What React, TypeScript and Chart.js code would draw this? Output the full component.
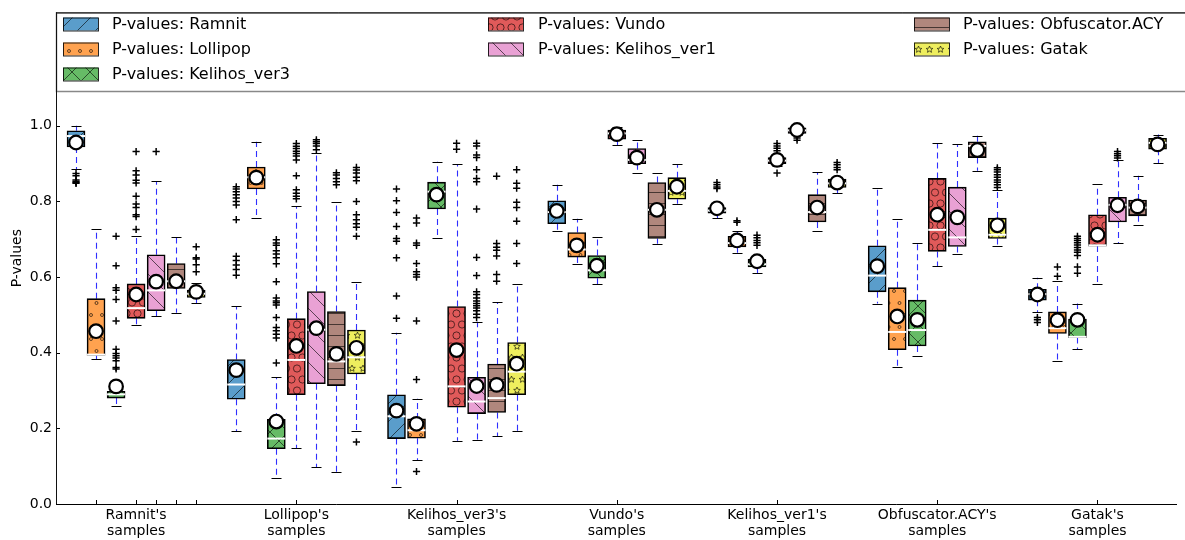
import React, { useEffect, useRef } from 'react';
import { Chart, registerables } from 'chart.js';
Chart.register(...registerables);

const groupLabels: string[][] = [
  ["Ramnit's", 'samples'],
  ["Lollipop's", 'samples'],
  ["Kelihos_ver3's", 'samples'],
  ["Vundo's", 'samples'],
  ["Kelihos_ver1's", 'samples'],
  ["Obfuscator.ACY's", 'samples'],
  ["Gatak's", 'samples'],
];
const seriesNames = ['Ramnit', 'Lollipop', 'Kelihos_ver3', 'Vundo', 'Kelihos_ver1', 'Obfuscator.ACY', 'Gatak'];
const seriesColors = ['#5a9dcb', '#ffa24f', '#66bb66', '#e05a5a', '#e9a1d4', '#b0877d', '#eeee5e'];
const seriesHatches = ['/', 'o', 'x', 'O', '\\', '-', '*'];

// [series][group]
const whiskerLow: number[][] = [
  [0.885, 0.192, 0.044, 0.723, 0.756, 0.530, 0.508],
  [0.383, 0.755, 0.116, 0.634, 0.664, 0.361, 0.379],
  [0.259, 0.068, 0.704, 0.581, 0.611, 0.392, 0.410],
  [0.474, 0.148, 0.167, 0.949, 0.895, 0.629, 0.582],
  [0.497, 0.097, 0.168, 0.875, 0.975, 0.660, 0.689],
  [0.506, 0.085, 0.180, 0.688, 0.721, 0.881, 0.739],
  [0.531, 0.192, 0.192, 0.794, 0.822, 0.683, 0.901],
];
const quartile1: number[][] = [
  [0.944, 0.277, 0.173, 0.741, 0.769, 0.561, 0.539],
  [0.393, 0.833, 0.174, 0.653, 0.680, 0.408, 0.451],
  [0.280, 0.146, 0.780, 0.597, 0.627, 0.418, 0.440],
  [0.491, 0.289, 0.256, 0.965, 0.900, 0.668, 0.682],
  [0.511, 0.318, 0.239, 0.900, 0.980, 0.681, 0.746],
  [0.570, 0.313, 0.242, 0.702, 0.746, 0.916, 0.762],
  [0.546, 0.344, 0.289, 0.806, 0.837, 0.702, 0.938],
];
const medians: number[][] = [
  [0.973, 0.316, 0.232, 0.772, 0.776, 0.604, 0.555],
  [0.395, 0.864, 0.195, 0.673, 0.690, 0.455, 0.465],
  [0.290, 0.173, 0.826, 0.618, 0.634, 0.460, 0.442],
  [0.518, 0.381, 0.311, 0.980, 0.908, 0.725, 0.684],
  [0.565, 0.461, 0.271, 0.910, 0.988, 0.705, 0.791],
  [0.589, 0.377, 0.280, 0.778, 0.772, 0.947, 0.784],
  [0.556, 0.388, 0.350, 0.828, 0.848, 0.712, 0.955],
];
const quartile3: number[][] = [
  [0.987, 0.382, 0.289, 0.802, 0.784, 0.683, 0.568],
  [0.543, 0.891, 0.225, 0.718, 0.708, 0.572, 0.508],
  [0.298, 0.224, 0.851, 0.657, 0.647, 0.539, 0.489],
  [0.582, 0.490, 0.522, 0.989, 0.916, 0.861, 0.765],
  [0.659, 0.562, 0.335, 0.940, 0.995, 0.838, 0.811],
  [0.636, 0.509, 0.370, 0.850, 0.818, 0.958, 0.804],
  [0.566, 0.460, 0.427, 0.863, 0.859, 0.756, 0.967],
];
const whiskerHigh: number[][] = [
  [1.0, 0.523, 0.453, 0.844, 0.790, 0.835, 0.598],
  [0.726, 0.958, 0.278, 0.754, 0.722, 0.754, 0.589],
  [0.305, 0.335, 0.905, 0.705, 0.655, 0.690, 0.530],
  [0.710, 0.787, 0.899, 0.996, 0.922, 0.954, 0.846],
  [0.854, 0.927, 0.482, 0.963, 1.0, 0.951, 0.910],
  [0.705, 0.799, 0.534, 0.876, 0.878, 0.974, 0.868],
  [0.585, 0.587, 0.582, 0.898, 0.866, 0.831, 0.977],
];
const means: number[][] = [
  [0.956, 0.354, 0.247, 0.775, 0.782, 0.629, 0.554],
  [0.457, 0.863, 0.212, 0.684, 0.697, 0.496, 0.486],
  [0.311, 0.218, 0.818, 0.630, 0.642, 0.487, 0.487],
  [0.554, 0.418, 0.407, 0.978, 0.910, 0.765, 0.712],
  [0.588, 0.465, 0.312, 0.916, 0.989, 0.758, 0.790],
  [0.589, 0.397, 0.315, 0.778, 0.784, 0.936, 0.787],
  [0.561, 0.413, 0.371, 0.839, 0.850, 0.737, 0.951],
];
const fliers: number[][][] = [
  [
    [0.874, 0.868, 0.857, 0.853, 0.850, 0.848],
    [0.839, 0.833, 0.826, 0.818, 0.809, 0.800, 0.791, 0.752, 0.655, 0.644, 0.632, 0.620, 0.605],
    [0.833, 0.802, 0.771, 0.734, 0.702, 0.695, 0.651, 0.550, 0.491],
    [],
    [0.850, 0.844, 0.838, 0.834],
    [],
    [0.493, 0.487, 0.480],
  ],
  [
    [],
    [],
    [0.756, 0.743, 0.690, 0.684, 0.636, 0.614, 0.607, 0.600, 0.484, 0.329, 0.086],
    [],
    [0.749, 0.745],
    [],
    [0.627, 0.602],
  ],
  [
    [0.708, 0.630, 0.572, 0.565, 0.541, 0.484, 0.409, 0.398, 0.392, 0.386, 0.379, 0.361, 0.357],
    [0.699, 0.690, 0.684, 0.670, 0.661, 0.651, 0.635, 0.588, 0.545, 0.537, 0.532, 0.526, 0.493, 0.467, 0.458, 0.449, 0.439, 0.373],
    [],
    [],
    [0.711, 0.704, 0.697, 0.691, 0.684],
    [],
    [0.708, 0.702, 0.697, 0.691, 0.685, 0.678, 0.672, 0.666, 0.657, 0.627, 0.610],
  ],
  [
    [0.932, 0.881, 0.870, 0.856, 0.849, 0.814, 0.793, 0.784, 0.765, 0.760, 0.726],
    [0.953, 0.946, 0.940, 0.933, 0.927, 0.920, 0.910, 0.868, 0.831, 0.822, 0.814, 0.807],
    [0.954, 0.938],
    [],
    [0.953, 0.947, 0.941, 0.934, 0.875],
    [],
    [],
  ],
  [
    [0.932],
    [0.963, 0.958, 0.953, 0.947, 0.937],
    [0.954, 0.947, 0.923, 0.916, 0.884, 0.861, 0.852, 0.780, 0.652, 0.604, 0.561, 0.554, 0.545, 0.537, 0.530, 0.524, 0.518, 0.511, 0.502, 0.493],
    [],
    [0.968, 0.962],
    [],
    [0.932, 0.926, 0.921, 0.915],
  ],
  [
    [],
    [0.876, 0.870, 0.861, 0.852, 0.844],
    [0.867, 0.689, 0.679, 0.671, 0.656, 0.607, 0.589],
    [],
    [],
    [],
    [],
  ],
  [
    [0.680, 0.651, 0.648, 0.633, 0.614],
    [0.890, 0.883, 0.875, 0.864, 0.855, 0.800, 0.765, 0.752, 0.741, 0.732, 0.708, 0.164],
    [0.884, 0.848, 0.835, 0.798, 0.784, 0.748, 0.689, 0.636],
    [],
    [0.903, 0.897, 0.890, 0.884],
    [0.889, 0.884, 0.878, 0.871, 0.864, 0.857, 0.851, 0.844, 0.837],
    [],
  ],
];
const yTickValues = [0, 0.2, 0.4, 0.6, 0.8, 1.0];
const extraXTicks = [-0.25, 0.125, 0.25, 0.375];

const BOX_STEP = 0.125;
const pos = (group: number, series: number) => group + (series - 3) * BOX_STEP;
const FONT = "'DejaVu Sans', sans-serif";

function drawStar(g: CanvasRenderingContext2D, cx: number, cy: number, r: number) {
  g.beginPath();
  for (let k = 0; k < 10; k++) {
    const rr = k % 2 === 0 ? r : r * 0.45;
    const a = -Math.PI / 2 + (k * Math.PI) / 5;
    const px = cx + rr * Math.cos(a);
    const py = cy + rr * Math.sin(a);
    if (k === 0) g.moveTo(px, py);
    else g.lineTo(px, py);
  }
  g.closePath();
  g.stroke();
}

function makePattern(color: string, hatch: string): CanvasPattern | string {
  const c = document.createElement('canvas');
  let w = 18, h = 18;
  if (hatch === 'o') { w = 11; h = 24; }
  if (hatch === 'O') { w = 11; h = 22; }
  if (hatch === '-') { w = 11; h = 11; }
  if (hatch === '*') { w = 11; h = 22; }
  c.width = w; c.height = h;
  const g = c.getContext('2d');
  if (!g) return color;
  g.fillStyle = color;
  g.fillRect(0, 0, w, h);
  g.strokeStyle = 'rgba(0,0,0,0.6)';
  g.lineWidth = 1;
  const line = (a: number, b: number, cc: number, d: number) => {
    g.beginPath(); g.moveTo(a, b); g.lineTo(cc, d); g.stroke();
  };
  if (hatch === '/' || hatch === 'x') line(-1, h + 1, w + 1, -1);
  if (hatch === '\\' || hatch === 'x') line(-1, -1, w + 1, h + 1);
  if (hatch === '-') line(0, 5.5, w, 5.5);
  if (hatch === 'o') {
    const dots = [[3, 3], [8.5, 15]];
    dots.forEach(([dx, dy]) => { g.beginPath(); g.arc(dx, dy, 1.5, 0, Math.PI * 2); g.stroke(); });
  }
  if (hatch === 'O') {
    const cs = [[5.5, 5.5], [0, 16.5], [11, 16.5]];
    cs.forEach(([dx, dy]) => { g.beginPath(); g.arc(dx, dy, 3.6, 0, Math.PI * 2); g.stroke(); });
  }
  if (hatch === '*') {
    drawStar(g, 5.5, 5.5, 3.5);
    drawStar(g, 0, 16.5, 3.5);
    drawStar(g, 11, 16.5, 3.5);
  }
  return g.createPattern(c, 'repeat') || color;
}

export default function App() {
  const ref = useRef<HTMLCanvasElement>(null);
  useEffect(() => {
    document.body.style.margin = '0';
    const canvas = ref.current;
    if (!canvas) return;
    const patterns = seriesColors.map((c, j) => makePattern(c, seriesHatches[j]));

    const boxDatasets = seriesNames.map((name, j) => ({
      type: 'bar' as const,
      label: name,
      kind: 'box',
      seriesIndex: j,
      data: groupLabels.map((_, i) => ({ x: pos(i, j), y: [quartile1[j][i], quartile3[j][i]] })),
      backgroundColor: patterns[j],
      borderColor: '#000',
      borderWidth: 1.6,
      borderSkipped: false,
      barThickness: 18,
      grouped: false,
      order: 3,
    }));
    const flierDatasets = seriesNames.map((name, j) => ({
      type: 'scatter' as const,
      label: name + ' fliers',
      data: fliers[j].flatMap((arr, i) => arr.map((v) => ({ x: pos(i, j), y: v }))),
      pointStyle: 'cross',
      pointRadius: 3.6,
      pointBorderWidth: 1.5,
      borderColor: '#000',
      backgroundColor: '#000',
      order: 2,
    }));
    const meanDatasets = seriesNames.map((name, j) => ({
      type: 'scatter' as const,
      label: name + ' mean',
      data: groupLabels.map((_, i) => ({ x: pos(i, j), y: means[j][i] })),
      pointStyle: 'circle',
      pointRadius: 6.8,
      pointBorderWidth: 2.2,
      borderColor: '#000',
      backgroundColor: '#fff',
      order: 1,
    }));

    const boxPlugin = {
      id: 'boxplotParts',
      beforeDatasetsDraw(chart: any) {
        const { ctx } = chart;
        const x = chart.scales.x, y = chart.scales.y;
        ctx.save();
        for (let j = 0; j < seriesNames.length; j++) {
          for (let i = 0; i < groupLabels.length; i++) {
            const px = Math.round(x.getPixelForValue(pos(i, j))) + 0.5;
            const yl = y.getPixelForValue(whiskerLow[j][i]);
            const yh = y.getPixelForValue(whiskerHigh[j][i]);
            const y1 = y.getPixelForValue(quartile1[j][i]);
            const y3 = y.getPixelForValue(quartile3[j][i]);
            ctx.setLineDash([6, 4]);
            ctx.strokeStyle = 'rgba(10,10,255,0.85)';
            ctx.lineWidth = 1.1;
            ctx.beginPath();
            ctx.moveTo(px, y3); ctx.lineTo(px, yh);
            ctx.moveTo(px, y1); ctx.lineTo(px, yl);
            ctx.stroke();
            ctx.setLineDash([]);
            ctx.strokeStyle = '#000';
            ctx.lineWidth = 1;
            ctx.beginPath();
            ctx.moveTo(px - 5, Math.round(yh) + 0.5); ctx.lineTo(px + 5, Math.round(yh) + 0.5);
            ctx.moveTo(px - 5, Math.round(yl) + 0.5); ctx.lineTo(px + 5, Math.round(yl) + 0.5);
            ctx.stroke();
          }
        }
        ctx.restore();
      },
      afterDatasetDraw(chart: any, args: any) {
        const ds: any = chart.data.datasets[args.index];
        if (!ds || ds.kind !== 'box') return;
        const j = ds.seriesIndex;
        const { ctx } = chart;
        const x = chart.scales.x, y = chart.scales.y;
        ctx.save();
        ctx.strokeStyle = '#fff';
        ctx.lineWidth = 2;
        for (let i = 0; i < groupLabels.length; i++) {
          const px = x.getPixelForValue(pos(i, j));
          const py = y.getPixelForValue(medians[j][i]);
          ctx.beginPath();
          ctx.moveTo(px - 9, py); ctx.lineTo(px + 9, py);
          ctx.stroke();
        }
        ctx.restore();
      },
      afterDraw(chart: any) {
        const { ctx, chartArea } = chart;
        const x = chart.scales.x, y = chart.scales.y;
        ctx.save();
        ctx.strokeStyle = '#000';
        ctx.lineWidth = 1;
        ctx.beginPath();
        yTickValues.forEach((v) => {
          const py = Math.round(y.getPixelForValue(v)) + 0.5;
          ctx.moveTo(chartArea.left, py); ctx.lineTo(chartArea.left + 4, py);
        });
        x.ticks.forEach((t: any) => {
          const px = Math.round(x.getPixelForValue(t.value)) + 0.5;
          ctx.moveTo(px, chartArea.bottom); ctx.lineTo(px, chartArea.bottom - 4);
        });
        ctx.stroke();
        // legend
        const L = chartArea.left, T = chartArea.top, B = 91;
        ctx.fillStyle = '#fff';
        ctx.fillRect(L, T, chart.width - L + 10, B - T);
        ctx.strokeStyle = '#888';
        ctx.lineWidth = 1.5;
        ctx.strokeRect(L + 0.5, T + 0.5, chart.width - L + 10, B - T);
        ctx.strokeStyle = '#111';
        ctx.lineWidth = 1;
        ctx.beginPath();
        ctx.moveTo(L, T + 0.5); ctx.lineTo(chart.width, T + 0.5);
        ctx.moveTo(L + 0.5, T); ctx.lineTo(L + 0.5, chartArea.bottom);
        ctx.stroke();
        const colSwatch = [63, 488, 914];
        const colText = [112, 538, 963];
        const rowY = [24, 49, 74];
        ctx.font = `16px ${FONT}`;
        ctx.textBaseline = 'middle';
        ctx.textAlign = 'left';
        seriesNames.forEach((name, j) => {
          const col = j < 3 ? 0 : j < 5 ? 1 : 2;
          const row = j < 3 ? j : j < 5 ? j - 3 : j - 5;
          const sx = colSwatch[col], sy = rowY[row];
          ctx.fillStyle = patterns[j];
          ctx.fillRect(sx, sy - 6.5, 35, 13);
          ctx.strokeStyle = 'rgba(0,0,0,0.85)';
          ctx.lineWidth = 1;
          ctx.strokeRect(sx + 0.5, sy - 6.5 + 0.5, 35, 13);
          ctx.fillStyle = '#000';
          ctx.fillText('P-values: ' + name, colText[col], sy + 1);
        });
        ctx.restore();
      },
    };

    const chart = new Chart(canvas, {
      type: 'bar',
      data: { datasets: [...boxDatasets, ...flierDatasets, ...meanDatasets] as any },
      options: {
        responsive: false,
        animation: false,
        layout: { padding: { top: 10, left: 0, right: 0, bottom: 0 } },
        plugins: { legend: { display: false }, tooltip: { enabled: false } },
        scales: {
          x: {
            type: 'linear',
            min: -0.5,
            max: 6.49,
            offset: false,
            grid: { display: false, drawTicks: false },
            border: { display: true, color: '#000', width: 1 },
            afterBuildTicks: (scale: any) => {
              scale.ticks = [...groupLabels.map((_, i) => i), ...extraXTicks].map((v) => ({ value: v }));
            },
            afterFit: (scale: any) => { scale.height = 36; },
            ticks: {
              autoSkip: false,
              maxRotation: 0,
              minRotation: 0,
              padding: 4,
              color: '#000',
              font: { family: FONT, size: 14, lineHeight: 1.1 },
              callback: (value: any) => {
                const v = Number(value);
                const k = Math.round(v);
                return Math.abs(v - k) < 1e-6 && k >= 0 && k < groupLabels.length ? groupLabels[k] : '';
              },
            },
          },
          y: {
            type: 'linear',
            min: 0,
            max: 1.3,
            grid: { display: false, drawTicks: false },
            border: { display: true, color: '#000', width: 1 },
            afterBuildTicks: (scale: any) => {
              scale.ticks = yTickValues.map((v) => ({ value: v }));
            },
            afterFit: (scale: any) => { scale.width = 56; },
            title: {
              display: true,
              text: 'P-values',
              color: '#000',
              font: { family: FONT, size: 14 },
              padding: { top: 9, bottom: 0 },
            },
            ticks: {
              padding: 4,
              color: '#000',
              font: { family: FONT, size: 14 },
              callback: (value: any) => Number(value).toFixed(1),
            },
          },
        },
      },
      plugins: [boxPlugin],
    });
    return () => chart.destroy();
  }, []);
  return <canvas ref={ref} width={1185} height={540} style={{ display: 'block' }} />;
}
